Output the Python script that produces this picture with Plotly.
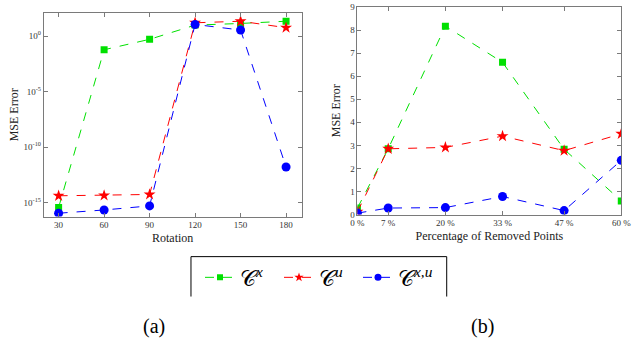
import plotly.graph_objects as go

# (a) rotation experiment, log-scale MSE
rotation = [30, 60, 90, 120, 150, 180]
rot_cx = [10**-15.44, 10**-1.23, 10**-0.29, 10**0.99, 10**1.14, 10**1.34]
rot_cu = [10**-14.39, 10**-14.36, 10**-14.27, 10**1.2, 10**1.34, 10**0.76]
rot_cxu = [10**-15.96, 10**-15.67, 10**-15.3, 10**1.05, 10**0.55, 10**-11.8]

# (b) removed points experiment
removed = [0, 7, 20, 33, 47, 60]
removed_labels = ["0 %", "7 %", "20 %", "33 %", "47 %", "60 %"]
rem_cx = [0.28, 2.85, 8.17, 6.6, 2.83, 0.59]
rem_cu = [0.12, 2.85, 2.91, 3.4, 2.77, 3.5]
rem_cxu = [0.06, 0.28, 0.3, 0.78, 0.17, 2.35]

series = [
    ("𝒞<sup><i>x</i></sup>", "#00e000", "square", 7, 6, rot_cx, rem_cx),
    ("𝒞<sup><i>u</i></sup>", "#ff0000", "star", 9, 7, rot_cu, rem_cu),
    ("𝒞<sup><i>x,u</i></sup>", "#0000ff", "circle", 9, 7, rot_cxu, rem_cxu),
]

serif = "Liberation Serif, DejaVu Serif, serif"
axis_col = "#7a7a7a"

fig = go.Figure()
for name, col, sym, size, leg_size, y_rot, y_rem in series:
    line = dict(color=col, width=1, dash="dash")
    fig.add_trace(go.Scatter(
        x=rotation, y=y_rot, mode="lines+markers", name=name, line=line,
        marker=dict(symbol=sym, size=size, color=col),
        xaxis="x", yaxis="y", showlegend=False,
    ))
    fig.add_trace(go.Scatter(
        x=removed, y=y_rem, mode="lines+markers", name=name, line=line,
        marker=dict(symbol=sym, size=size, color=col),
        xaxis="x2", yaxis="y2", showlegend=False,
    ))
    # legend-only entry with the smaller legend symbol
    fig.add_trace(go.Scatter(
        x=[None], y=[None], mode="lines+markers", name=name, line=line,
        marker=dict(symbol=sym, size=leg_size, color=col),
        xaxis="x", yaxis="y",
    ))

common = dict(
    showline=True, linecolor=axis_col, linewidth=1, mirror="ticks",
    ticks="inside", ticklen=4, tickcolor=axis_col, showgrid=False,
    zeroline=False, tickfont=dict(family=serif, size=9, color="#333"),
    ticklabeloverflow="allow",
)

# legend frame (open at the bottom, as in the cropped original)
box_l, box_r, box_t, box_b = 0.2953, 0.7058, 0.2577, 0.14
frame = [
    dict(type="line", xref="paper", yref="paper", x0=box_l, x1=box_l, y0=box_b, y1=box_t),
    dict(type="line", xref="paper", yref="paper", x0=box_l, x1=box_r, y0=box_t, y1=box_t),
    dict(type="line", xref="paper", yref="paper", x0=box_r, x1=box_r, y0=box_b, y1=box_t),
]
for s in frame:
    s["line"] = dict(color="black", width=1)

fig.update_layout(
    width=640, height=349,
    margin=dict(l=0, r=0, t=0, b=0),
    plot_bgcolor="white", paper_bgcolor="white",
    font=dict(family=serif, color="#222"),
    xaxis=dict(
        domain=[0.059, 0.473], anchor="y", range=[20.2, 190.3],
        tickvals=rotation,
        title=dict(text="Rotation", font=dict(family=serif, size=12), standoff=4),
        **common,
    ),
    yaxis=dict(
        domain=[0.376, 0.976], anchor="x", type="log", range=[-16.26, 2.07],
        tickvals=[1e-15, 1e-10, 1e-5, 1e0],
        ticktext=["10<sup>-15</sup>", "10<sup>-10</sup>", "10<sup>-5</sup>", "10<sup>0</sup>"],
        title=dict(text="MSE Error", font=dict(family=serif, size=12), standoff=2),
        **common,
    ),
    xaxis2=dict(
        domain=[0.5625, 0.986], anchor="y2", range=[0, 60],
        tickvals=removed, ticktext=removed_labels,
        title=dict(text="Percentage of Removed Points", font=dict(family=serif, size=12), standoff=4),
        **common,
    ),
    yaxis2=dict(
        domain=[0.382, 0.994], anchor="x2", range=[0, 9], dtick=1,
        title=dict(text="MSE Error", font=dict(family=serif, size=12), standoff=6),
        **common,
    ),
    legend=dict(
        orientation="h", x=0.5, xanchor="center", y=0.258, yanchor="top",
        borderwidth=0, bgcolor="rgba(0,0,0,0)",
        font=dict(family=serif, size=22, color="black"),
        itemwidth=30, traceorder="normal", entrywidth=34,
    ),
    shapes=frame,
    annotations=[
        dict(text="(a)", x=0.2367, y=0.0516, xref="paper", yref="paper",
             xanchor="center", yanchor="middle",
             showarrow=False, font=dict(family=serif, size=20, color="black")),
        dict(text="(b)", x=0.7625, y=0.0516, xref="paper", yref="paper",
             xanchor="center", yanchor="middle",
             showarrow=False, font=dict(family=serif, size=20, color="black")),
    ],
)

fig.write_html("out.html", config={"displayModeBar": False},
               post_script="document.body.style.margin='0';")
